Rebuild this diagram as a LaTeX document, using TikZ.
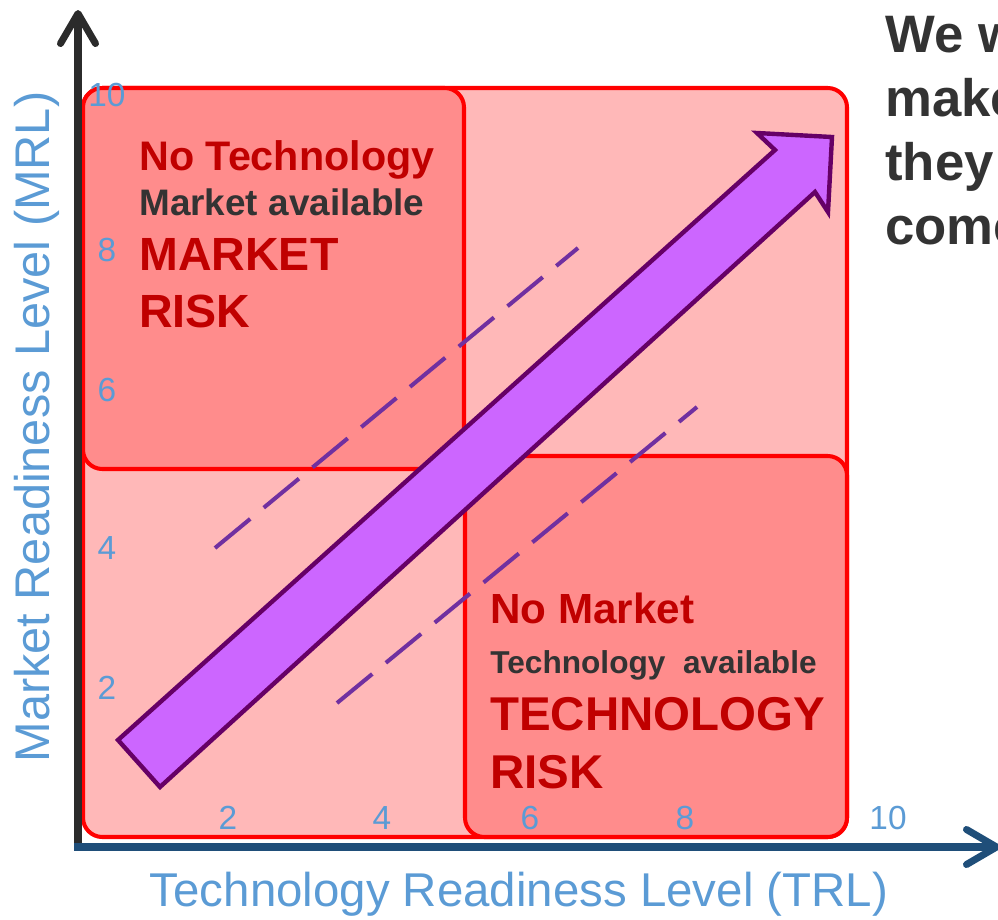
\documentclass[tikz,border=0pt]{standalone}
\usepackage{fontspec}
\setmainfont{Liberation Sans}
\usetikzlibrary{arrows.meta}
\definecolor{achsegrau}{HTML}{2B2B2B}
\definecolor{achseblau}{HTML}{1F4E79}
\definecolor{hellblau}{HTML}{5B9BD5}
\definecolor{rahmenrot}{HTML}{FF0000}
\definecolor{dunkelrot}{HTML}{C00000}
\definecolor{textgrau}{HTML}{333333}
\definecolor{pfeillila}{HTML}{CC66FF}
\definecolor{pfeilrand}{HTML}{660066}
\definecolor{strichlila}{HTML}{7030A0}
\newcommand{\schrift}[1]{\fontsize{#1}{#1}\selectfont}
\begin{document}
\begin{tikzpicture}[x=0.02cm, y=-0.02cm,
	feld/.style={draw=rahmenrot, line width=2.3pt, rounded corners=11pt},
	achse/.style={line width=4pt, -{Straight Barb[length=6mm, width=7mm, round]}},
	hilfslinie/.style={draw=strichlila, line width=2.3pt, dash pattern=on 26pt off 10pt},
	zahl/.style={text=hellblau, inner sep=0pt, font=\schrift{19}},
	achsentext/.style={text=hellblau, inner sep=0pt, font=\schrift{27}},
	zeile/.style={inner sep=0pt, anchor=base west, font=\bfseries}]
	\useasboundingbox (0,0) rectangle (998,920);
	% Felder
	\path[feld, fill=red!28] (83,88) rectangle (847,837);
	\path[feld, fill=red!45] (83,88) rectangle (464,469);
	\path[feld, fill=red!45] (465,456) rectangle (847,837);
	% Achsen
	\coordinate (ursprung) at (78,847);
	\coordinate (yende) at (78,10);
	\coordinate (xende) at (1000,847);
	\draw[achse, achsegrau] (ursprung) -- (yende);
	\draw[achse, achseblau] (74,847) -- (xende);
	% Achsenbeschriftung
	\foreach \y/\t in {95/10, 250/8, 390/6, 548/4, 688/2}
		\node[zahl] (ytick\t) at (107,\y) {\t};
	\foreach \x/\t in {228/2, 382/4, 530/6, 685/8, 888/10}
		\node[zahl] (xtick\t) at (\x,818) {\t};
	\node[achsentext, rotate=90, font=\schrift{27.7}] (mrl) at (37,427) {Market Readiness Level (MRL)};
	\node[achsentext] (trl) at (519,894) {Technology Readiness Level (TRL)};
	% Hilfslinien
	\coordinate (linie1a) at (215,548);
	\coordinate (linie1b) at (578,248);
	\coordinate (linie2a) at (337,703);
	\coordinate (linie2b) at (697,407);
	\draw[hilfslinie] (linie1a) -- (linie1b);
	\draw[hilfslinie] (linie2a) -- (linie2b);
	% grosser Pfeil
	\filldraw[fill=pfeillila, draw=pfeilrand, line width=2.5pt, line join=miter]
		(118,740) -- (775,150) -- (757,133) -- (832,137) -- (828,212)
		-- (815,192) -- (160,787) -- cycle;
	% Texte oben links
	\node[zeile, text=dunkelrot, font=\bfseries\schrift{23.5}] (notech) at (139,170) {No Technology};
	\node[zeile, text=textgrau, font=\bfseries\schrift{21}] (marktda) at (139,215) {Market available};
	\node[zeile, text=dunkelrot, font=\bfseries\schrift{26.5}] (marketrisk) at (139,270) {MARKET};
	\node[zeile, text=dunkelrot, font=\bfseries\schrift{26.5}] (marketrisk2) at (139,327) {RISK};
	% Texte unten rechts
	\node[zeile, text=dunkelrot, font=\bfseries\schrift{24}] (nomarket) at (490,623) {No Market};
	\node[zeile, text=textgrau, font=\bfseries\schrift{18}] (techda) at (490,673) {Technology\ \ available};
	\node[zeile, text=dunkelrot, font=\bfseries\schrift{27}] (techrisk) at (490,730) {TECHNOLOGY};
	\node[zeile, text=dunkelrot, font=\bfseries\schrift{27}] (techrisk2) at (490,788) {RISK};
	% Text rechts oben
	\node[zeile, text=textgrau, font=\bfseries\schrift{30}] (satz1) at (885,52) {We w};
	\node[zeile, text=textgrau, font=\bfseries\schrift{30}] (satz2) at (885,116) {make};
	\node[zeile, text=textgrau, font=\bfseries\schrift{30}] (satz3) at (885,180) {they};
	\node[zeile, text=textgrau, font=\bfseries\schrift{30}] (satz4) at (885,244) {come};
\end{tikzpicture}
\end{document}
